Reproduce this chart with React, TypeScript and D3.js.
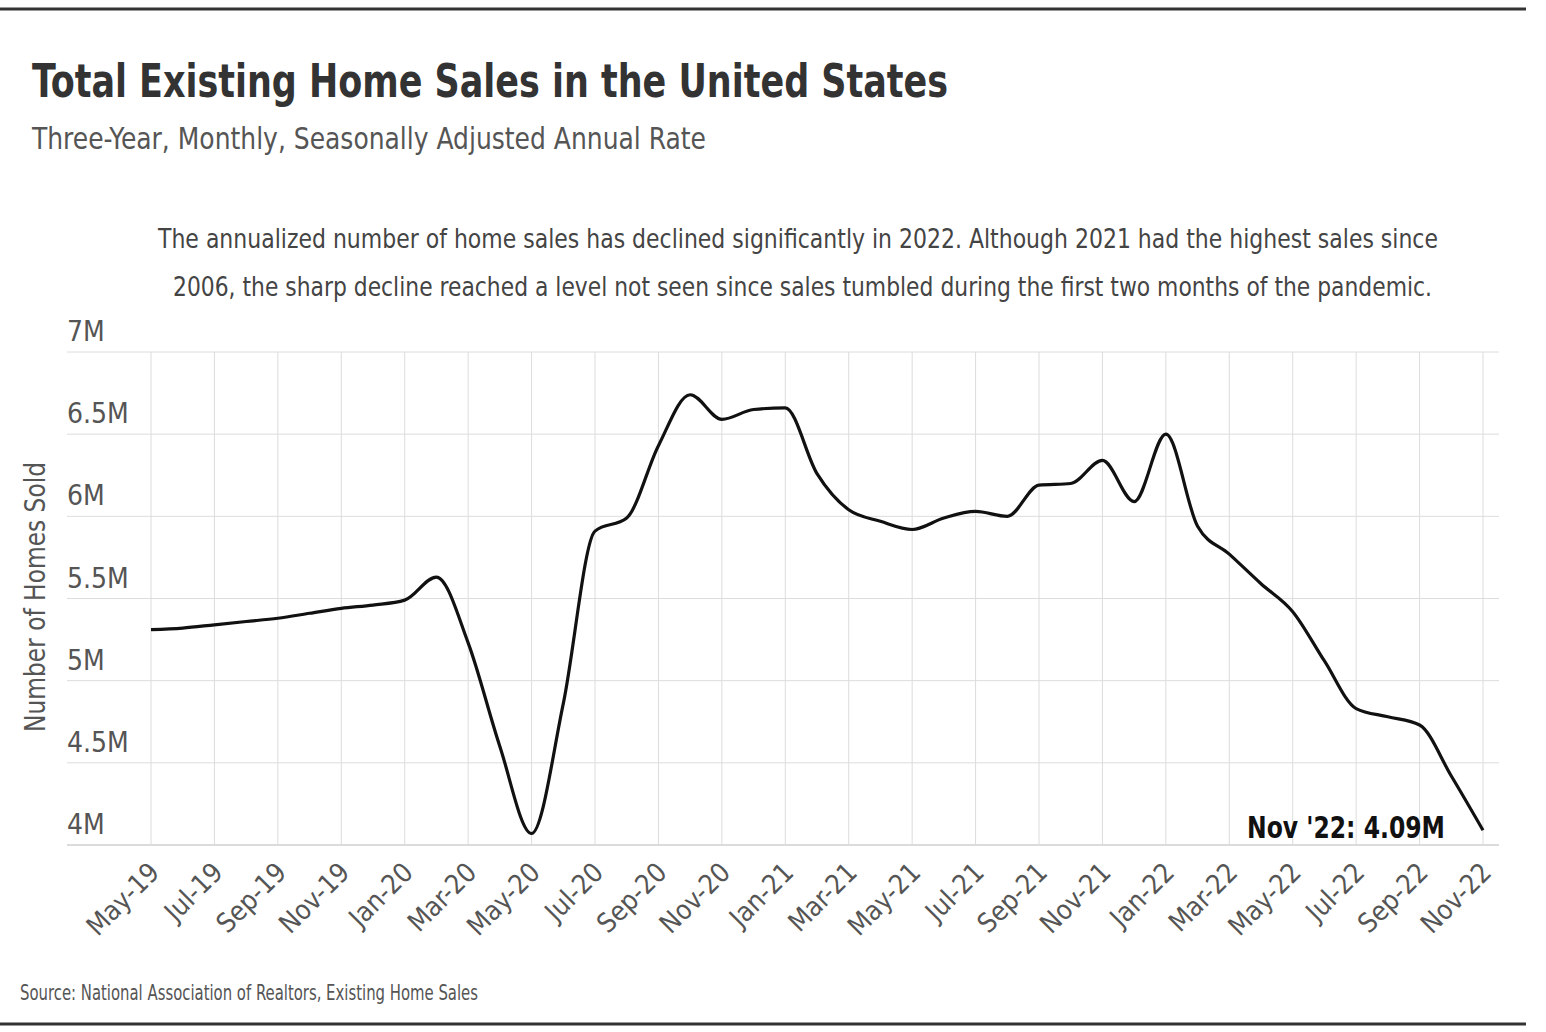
import React from "react";
import * as d3 from "d3";

const months = [
  "May-19","Jun-19","Jul-19","Aug-19","Sep-19","Oct-19","Nov-19","Dec-19",
  "Jan-20","Feb-20","Mar-20","Apr-20","May-20","Jun-20","Jul-20","Aug-20","Sep-20","Oct-20","Nov-20","Dec-20",
  "Jan-21","Feb-21","Mar-21","Apr-21","May-21","Jun-21","Jul-21","Aug-21","Sep-21","Oct-21","Nov-21","Dec-21",
  "Jan-22","Feb-22","Mar-22","Apr-22","May-22","Jun-22","Jul-22","Aug-22","Sep-22","Oct-22","Nov-22",
];

// Millions of homes, seasonally adjusted annual rate
const sales = [
  5.31, 5.32, 5.34, 5.36, 5.38, 5.41, 5.44, 5.46,
  5.49, 5.63, 5.23, 4.6, 4.07, 4.86, 5.91, 5.99, 6.43, 6.74, 6.59, 6.65,
  6.66, 6.26, 6.04, 5.97, 5.92, 5.99, 6.03, 6.0, 6.19, 6.2, 6.34, 6.09,
  6.5, 5.94, 5.77, 5.59, 5.42, 5.12, 4.83, 4.78, 4.73, 4.42, 4.09,
];

const yTicks = [4, 4.5, 5, 5.5, 6, 6.5, 7];
const yTickLabels = ["4M", "4.5M", "5M", "5.5M", "6M", "6.5M", "7M"];

const title = "Total Existing Home Sales in the United States";
const subtitle = "Three-Year, Monthly, Seasonally Adjusted Annual Rate";
const note1 = "The annualized number of home sales has declined significantly in 2022. Although 2021 had the highest sales since";
const note2 = "2006, the sharp decline reached a level not seen since sales tumbled during the first two months of the pandemic.";
const endLabel = "Nov '22: 4.09M";
const yTitle = "Number of Homes Sold";
const source = "Source:  National Association of Realtors, Existing Home Sales";

const FONT = "'Liberation Sans Narrow', 'DejaVu Sans Condensed', 'Open Sans', sans-serif";

export default function App() {
  const W = 1546;
  const H = 1032;
  const x = d3.scaleLinear().domain([0, months.length - 1]).range([151, 1483]);
  const y = d3.scaleLinear().domain([4, 7]).range([845, 352]);
  const line = d3
    .line<number>()
    .x((_, i) => x(i))
    .y((d) => y(d))
    .curve(d3.curveMonotoneX);

  const tickIdx = months.map((_, i) => i).filter((i) => i % 2 === 0);

  return (
    <svg width={W} height={H} style={{ display: "block", position: "absolute", left: 0, top: 0 }} fontFamily={FONT}>
      <rect x={0} y={0} width={W} height={H} fill="#fff" />
      <line x1={0} x2={1526} y1={9} y2={9} stroke="#333" strokeWidth={3} />
      <line x1={0} x2={1526} y1={1024} y2={1024} stroke="#333" strokeWidth={3} />

      <text x={32} y={97} fontSize={46} fontWeight="bold" fill="#333" textLength={916} lengthAdjust="spacingAndGlyphs">
        {title}
      </text>
      <text x={32} y={149} fontSize={31} fill="#555" textLength={674} lengthAdjust="spacingAndGlyphs">
        {subtitle}
      </text>
      <text
        transform="translate(158, 248) scale(0.85, 1)"
        fontSize={27}
        fill="#444"
        textLength={1280 / 0.85}
        lengthAdjust="spacingAndGlyphs"
      >
        {note1}
      </text>
      <text
        transform="translate(173, 296) scale(0.85, 1)"
        fontSize={27}
        fill="#444"
        textLength={1259 / 0.85}
        lengthAdjust="spacingAndGlyphs"
      >
        {note2}
      </text>

      {/* grid */}
      {yTicks.map((t) => (
        <line key={"h" + t} x1={67} x2={1499} y1={y(t)} y2={y(t)} stroke={t === 4 ? "#cfcfcf" : "#dcdcdc"} strokeWidth={t === 4 ? 1.5 : 1} />
      ))}
      {tickIdx.map((i) => (
        <line key={"v" + i} x1={x(i)} x2={x(i)} y1={y(7)} y2={y(4)} stroke="#dcdcdc" strokeWidth={1} />
      ))}

      {/* y labels */}
      {yTicks.map((t, k) => (
        <text key={"yl" + t} x={67} y={y(t) - 11} fontSize={28} fill="#555">
          {yTickLabels[k]}
        </text>
      ))}
      <text
        transform={`translate(45, 597) rotate(-90)`}
        textAnchor="middle"
        fontSize={29}
        fill="#555"
        textLength={270}
        lengthAdjust="spacingAndGlyphs"
      >
        {yTitle}
      </text>

      {/* x labels */}
      {tickIdx.map((i) => (
        <text
          key={"xl" + i}
          transform={`translate(${x(i) + 10}, 874) rotate(-45)`}
          textAnchor="end"
          fontSize={27}
          fill="#555"
        >
          {months[i]}
        </text>
      ))}

      <path d={line(sales) || ""} fill="none" stroke="#111" strokeWidth={3.2} strokeLinejoin="round" />

      <text x={1247} y={838} fontSize={31} fontWeight="bold" fill="#111" textLength={198} lengthAdjust="spacingAndGlyphs">
        {endLabel}
      </text>

      <text x={20} y={1000} fontSize={21} fill="#555" textLength={458} lengthAdjust="spacingAndGlyphs">
        {source}
      </text>
    </svg>
  );
}
